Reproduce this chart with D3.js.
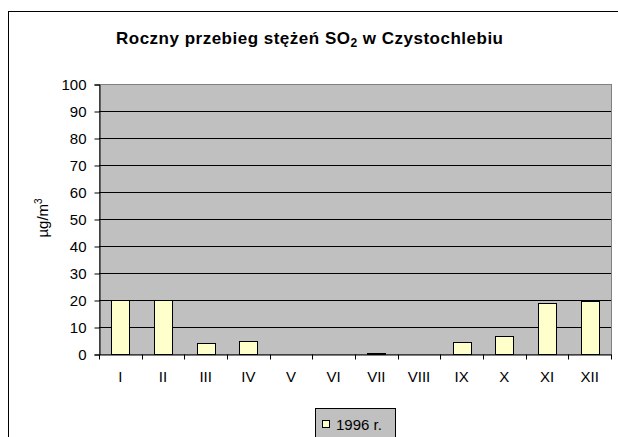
<!DOCTYPE html>
<html>
<head>
<meta charset="utf-8">
<script src="https://cdn.jsdelivr.net/npm/d3@7"></script>
<style>
  body { margin: 0; background: #fff; }
  text { font-family: "Liberation Sans", Arial, sans-serif; }
</style>
</head>
<body>
<script>
// dane
var months = ["I", "II", "III", "IV", "V", "VI", "VII", "VIII", "IX", "X", "XI", "XII"];
var values1996 = [20, 20, 4, 4.8, 0, 0, 0.5, 0, 4.3, 6.7, 19, 19.5];
var yTicks = [0, 10, 20, 30, 40, 50, 60, 70, 80, 90, 100];
var seriesName = "1996 r.";

var W = 618, H = 437;
var plot = {left: 99, top: 84, right: 611, bottom: 354};

var svg = d3.select("body").append("svg")
  .attr("width", W)
  .attr("height", H);

// ramka wykresu
svg.append("rect")
  .attr("x", 8.5).attr("y", 11.5)
  .attr("width", 640).attr("height", 460)
  .attr("fill", "#fff")
  .attr("stroke", "#000")
  .attr("stroke-width", 1);

var xScale = d3.scaleBand().domain(months).range([plot.left, plot.right]);
var y = d3.scaleLinear().domain([0, 100]).range([plot.bottom, plot.top]);

// tlo obszaru
svg.append("rect")
  .attr("x", plot.left + 0.5).attr("y", plot.top + 0.5)
  .attr("width", plot.right - plot.left).attr("height", plot.bottom - plot.top)
  .attr("fill", "#c0c0c0")
  .attr("stroke", "#808080");

// linie siatki
svg.append("g")
  .selectAll("line")
  .data(yTicks.filter(function(d) { return d > 0 && d < 100; }))
  .enter().append("line")
  .attr("x1", plot.left).attr("x2", plot.right)
  .attr("y1", function(d) { return Math.round(y(d)) + 0.5; })
  .attr("y2", function(d) { return Math.round(y(d)) + 0.5; })
  .attr("stroke", "#000");

// slupki
svg.append("g")
  .selectAll("rect")
  .data(values1996)
  .enter().append("rect")
  .attr("x", function(d, i) { return Math.round(xScale(months[i]) + xScale.bandwidth() / 2 - 9) + 0.5; })
  .attr("width", 18)
  .attr("y", function(d) { return Math.round(y(d)) + 0.5; })
  .attr("height", function(d) { return Math.max(0, plot.bottom - Math.round(y(d))); })
  .attr("fill", "#ffffcc")
  .attr("stroke", "#000")
  .attr("stroke-width", 1);

// os Y
var yAxis = d3.axisLeft(y).tickValues(yTicks).tickSize(5).tickPadding(8);
var gy = svg.append("g")
  .attr("transform", "translate(" + (plot.left + 0.5) + ",0.5)")
  .call(yAxis);
gy.selectAll("text").attr("font-size", 15).attr("fill", "#000").attr("font-family", "Liberation Sans, Arial");
gy.selectAll("line").attr("stroke", "#000");
gy.select(".domain").attr("stroke", "#000");

// os X
var xAxis = d3.axisBottom(xScale).tickSize(0).tickPadding(17);
var gx = svg.append("g")
  .attr("transform", "translate(0," + (plot.bottom + 0.5) + ")")
  .call(xAxis);
gx.selectAll("text").attr("font-size", 15).attr("fill", "#000").attr("font-family", "Liberation Sans, Arial");
gx.select(".domain").attr("stroke", "#000");
gx.append("g").selectAll("line")
  .data(d3.range(months.length + 1))
  .enter().append("line")
  .attr("x1", function(i) { return Math.round(plot.left + i * xScale.step()) + 0.5; })
  .attr("x2", function(i) { return Math.round(plot.left + i * xScale.step()) + 0.5; })
  .attr("y1", 0).attr("y2", 5)
  .attr("stroke", "#000");

// tytul
var title = svg.append("text")
  .attr("x", 116).attr("y", 44)
  .attr("font-size", 17).attr("font-weight", "bold")
  .attr("fill", "#000")
  .attr("textLength", 387)
  .attr("lengthAdjust", "spacing");
title.append("tspan").text("Roczny przebieg stężeń SO");
title.append("tspan").attr("font-size", 12).attr("dy", 3).text("2");
title.append("tspan").attr("dy", -3).text(" w Czystochlebiu");

// tytul osi Y
var yt = svg.append("text")
  .attr("transform", "translate(48,218) rotate(-90)")
  .attr("text-anchor", "middle")
  .attr("font-size", 15).attr("fill", "#000");
yt.append("tspan").text("µg/m");
yt.append("tspan").attr("font-size", 10).attr("dy", -6).text("3");

// legenda
var lg = svg.append("g");
lg.append("rect")
  .attr("x", 315.5).attr("y", 408.5)
  .attr("width", 80).attr("height", 40)
  .attr("fill", "#c0c0c0").attr("stroke", "#000");
lg.append("rect")
  .attr("x", 322.5).attr("y", 420.5)
  .attr("width", 7).attr("height", 7)
  .attr("fill", "#ffffcc").attr("stroke", "#000");
lg.append("text")
  .attr("x", 336).attr("y", 430)
  .attr("font-size", 15).attr("fill", "#000")
  .text(seriesName);
</script>
</body>
</html>
